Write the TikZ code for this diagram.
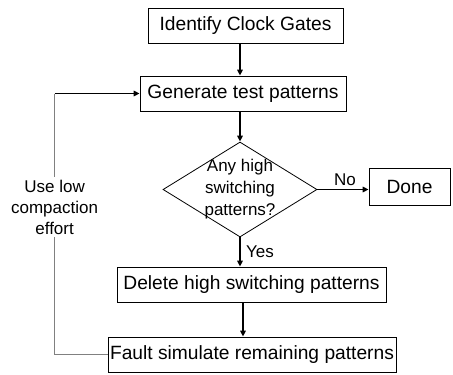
\documentclass[tikz,border=0pt]{standalone}
\usepackage{fontspec}
\setmainfont{Liberation Sans}
\usetikzlibrary{arrows.meta, positioning, shapes.geometric}

\begin{document}
\begin{tikzpicture}[x=1pt, y=1pt, >={Triangle[length=6pt, width=5.5pt]}, node distance=68pt,
		process/.style={rectangle, draw, line width=0.8pt, minimum height=35pt, inner sep=0pt, font=\fontsize{19.2}{22}\selectfont},
		decision/.style={diamond, draw, line width=0.8pt, minimum width=154pt, minimum height=95pt, inner sep=0pt},
		flow/.style={->, line width=1.6pt},
		note/.style={font=\fontsize{17}{21}\selectfont, align=center}]
		\useasboundingbox (0,0) rectangle (453,-375);

		\node[process, minimum width=195pt] (Identify) at (245.5,-25.5) {Identify Clock Gates};
		\node[process, minimum width=206pt, below of=Identify, xshift=-2.5pt] (Generate)
			{Generate test patterns};

		\node[decision, below of=Generate, node distance=96pt, xshift=-3pt] (AnyHigh) {};
		\node[note, font=\fontsize{17}{22}\selectfont] (AnyHighText) at (AnyHigh) {Any high \\ switching \\ patterns?};

		\node[process, minimum width=81pt, minimum height=37pt, right of=AnyHigh, node distance=169.5pt, yshift=3pt] (Done)
			{Done};

		\node[process, minimum width=269pt, below of=AnyHigh, node distance=95pt, xshift=11.5pt] (Delete)
			{Delete high switching patterns};
		\node[process, minimum width=288pt, below of=Delete, node distance=70pt, xshift=0.5pt] (FaultSim)
			{Fault simulate remaining patterns};

		\draw[flow] (Identify.south -| AnyHigh.north) -- (Generate.north -| AnyHigh.north);
		\draw[flow] (Generate.south -| AnyHigh.north) -- (AnyHigh.north);
		\draw[flow] (AnyHigh.east) -- node[note, above, xshift=2pt] {No} (AnyHigh.east -| Done.west);
		\draw[flow] (AnyHigh.south) -- node[note, right, xshift=2pt] {Yes} (Delete.north -| AnyHigh.south);
		\draw[flow] ([xshift=3pt]Delete.south -| AnyHigh.south) -- ([xshift=3pt]FaultSim.north -| AnyHigh.south);

		% loop back with lower effort
		\coordinate[left=53pt of FaultSim.west] (LoopBottom);
		\coordinate (LoopTop) at (LoopBottom |- Generate.west);
		\draw[gray, line width=0.8pt] (FaultSim.west) -- (LoopBottom) -- (LoopTop);
		\draw[flow] (LoopTop) -- (Generate.west);
		\node[note, fill=white, inner sep=3pt] (LoopLabel) at (LoopBottom |- 0,-207)
			{Use low \\ compaction \\ effort};

	\end{tikzpicture}
\end{document}
